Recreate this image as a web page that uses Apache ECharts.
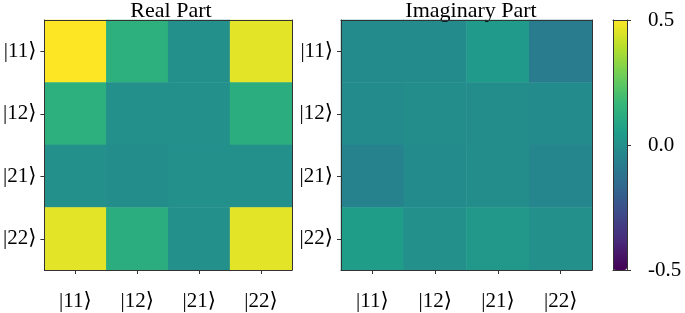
<!DOCTYPE html>
<html>
<head>
<meta charset="utf-8">
<script src="https://cdn.jsdelivr.net/npm/echarts@6/dist/echarts.min.js"></script>
<style>
  html,body{margin:0;padding:0;background:#fff;}
  #main{width:685px;height:313px;}
</style>
</head>
<body>
<div id="main"></div>
<script>
// basis states
var states = ['|11⟩', '|12⟩', '|21⟩', '|22⟩'];
// rows = |11>,|12>,|21>,|22> ; cols same order
var realPart = [
  [0.50, 0.13, 0.00, 0.46],
  [0.13, 0.00, 0.00, 0.12],
  [0.00, -0.01, 0.00, 0.00],
  [0.46, 0.12, 0.00, 0.46]
];
var imagPart = [
  [-0.02, -0.02, 0.04, -0.08],
  [-0.02, -0.01, -0.01, -0.02],
  [-0.05, -0.02, -0.01, -0.04],
  [0.05, 0.00, 0.03, 0.00]
];
var cbarTicks = [-0.5, 0.0, 0.5];
var titles = ['Real Part', 'Imaginary Part'];

var viridis = ['#440154','#482878','#3e4989','#31688e','#26828e','#1f9e89','#35b779','#6ece58','#b5de2b','#fde725'];
var serif = "'Liberation Serif','DejaVu Serif',serif";

function toCells(m){
  var out = [];
  for (var r = 0; r < m.length; r++)
    for (var c = 0; c < m[r].length; c++)
      out.push([c, r, m[r][c]]);
  return out;
}

var chart = echarts.init(document.getElementById('main'));

var grids = [
  {left: 41, top: 20, width: 251, height: 250},
  {left: 341, top: 20, width: 251, height: 250},
  {left: 613, top: 20, width: 14, height: 250}
];

var xAxes = [], yAxes = [];
[0,1].forEach(function(g){
  xAxes.push({
    type: 'category', gridIndex: g, data: states, position: 'bottom', z: 10,
    axisLine: {show: true, lineStyle: {color: '#333', width: 1}},
    axisTick: {show: true, alignWithLabel: true, length: 4, lineStyle: {color: '#333'}},
    axisLabel: {fontFamily: serif, fontSize: 21, color: '#000', margin: 21},
    splitLine: {show: false}
  });
  xAxes.push({
    type: 'category', gridIndex: g, data: states, position: 'top', z: 10,
    axisLine: {show: true, lineStyle: {color: '#333', width: 1}},
    axisTick: {show: false}, axisLabel: {show: false}
  });
  yAxes.push({
    type: 'category', gridIndex: g, data: states, inverse: true, position: 'left', z: 10,
    axisLine: {show: true, lineStyle: {color: '#333', width: 1}},
    axisTick: {show: true, alignWithLabel: true, length: 4, lineStyle: {color: '#333'}},
    axisLabel: {fontFamily: serif, fontSize: 21, color: '#000', margin: 8},
    splitLine: {show: false}
  });
  yAxes.push({
    type: 'category', gridIndex: g, data: states, inverse: true, position: 'right', z: 10,
    axisLine: {show: true, lineStyle: {color: '#333', width: 1}},
    axisTick: {show: false}, axisLabel: {show: false}
  });
});
// colorbar frame + ticks
xAxes.push({type: 'value', gridIndex: 2, min: 0, max: 1, position: 'bottom', z: 10,
  axisLine: {show: true, onZero: false, lineStyle: {color: '#333'}}, axisTick: {show: false}, axisLabel: {show: false}, splitLine: {show: false}});
xAxes.push({type: 'value', gridIndex: 2, min: 0, max: 1, position: 'top', z: 10,
  axisLine: {show: true, onZero: false, lineStyle: {color: '#333'}}, axisTick: {show: false}, axisLabel: {show: false}, splitLine: {show: false}});
yAxes.push({type: 'value', gridIndex: 2, min: cbarTicks[0], max: cbarTicks[2], interval: 0.5, position: 'right', z: 10,
  axisLine: {show: true, onZero: false, lineStyle: {color: '#333'}},
  axisTick: {show: true, length: 4, lineStyle: {color: '#333'}},
  axisLabel: {fontFamily: serif, fontSize: 21, color: '#000', margin: 21,
    formatter: function(v){ return v.toFixed(1); }},
  splitLine: {show: false}});
yAxes.push({type: 'value', gridIndex: 2, min: cbarTicks[0], max: cbarTicks[2], position: 'left', z: 10,
  axisLine: {show: true, onZero: false, lineStyle: {color: '#333'}}, axisTick: {show: false}, axisLabel: {show: false}, splitLine: {show: false}});

chart.setOption({
  animation: false,
  backgroundColor: '#fff',
  title: [
    {text: titles[0], left: 166, top: -5, textAlign: 'center',
     textStyle: {fontFamily: serif, fontSize: 22, fontWeight: 'normal', color: '#000'}},
    {text: titles[1], left: 466, top: -5, textAlign: 'center',
     textStyle: {fontFamily: serif, fontSize: 22, fontWeight: 'normal', color: '#000'}}
  ],
  grid: grids,
  xAxis: xAxes,
  yAxis: yAxes,
  visualMap: {
    type: 'continuous', min: -0.5, max: 0.5, seriesIndex: [0, 1],
    calculable: false, hoverLink: false, padding: 0,
    left: 613, top: 20, itemWidth: 14, itemHeight: 250,
    text: null, showLabel: false,
    inRange: {color: viridis}
  },
  series: [
    {type: 'heatmap', xAxisIndex: 0, yAxisIndex: 0, data: toCells(realPart), itemStyle: {borderWidth: 0}},
    {type: 'heatmap', xAxisIndex: 2, yAxisIndex: 2, data: toCells(imagPart), itemStyle: {borderWidth: 0}}
  ]
});
</script>
</body>
</html>
